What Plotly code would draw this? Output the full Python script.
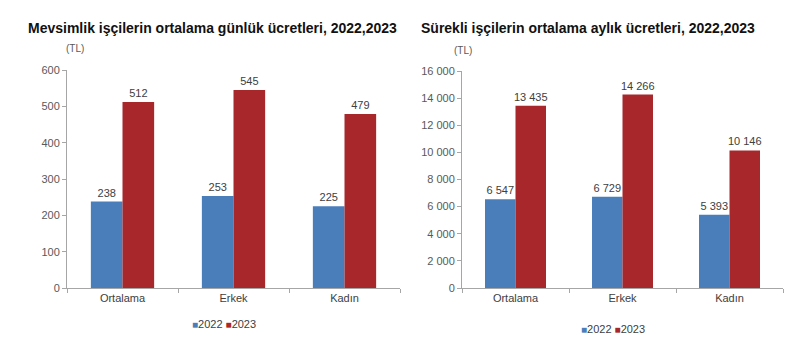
import plotly.graph_objects as go

categories = ["Ortalama", "Erkek", "Kadın"]
years = ["2022", "2023"]
daily_2022 = [238, 253, 225]
daily_2023 = [512, 545, 479]
monthly_2022 = [6547, 6729, 5393]
monthly_2023 = [13435, 14266, 10146]

left_title = "Mevsimlik işçilerin ortalama günlük ücretleri, 2022,2023"
right_title = "Sürekli işçilerin ortalama aylık ücretleri, 2022,2023"
unit = "(TL)"

BLUE = "#4a7ebb"
RED = "#a8272a"
FONT = "Liberation Sans, Arial, sans-serif"
TICKC = "#595959"
AXC = "#a6a6a6"
W, H, OFF = 800, 357, 8


def xp(px):
    return (px - OFF) / W


def yp(py):
    return 1 - (py - OFF) / H


fig = go.Figure()

for vals, name, col, xa, ya in [
    (daily_2022, years[0], BLUE, "x", "y"),
    (daily_2023, years[1], RED, "x", "y"),
    (monthly_2022, years[0], BLUE, "x2", "y2"),
    (monthly_2023, years[1], RED, "x2", "y2"),
]:
    fig.add_trace(go.Bar(
        x=categories, y=vals, name=name, marker=dict(color=col, line=dict(width=0)),
        xaxis=xa, yaxis=ya, showlegend=False,
        text=vals, texttemplate="%{y:,}", textposition="outside",
        textfont=dict(size=11, color="#404040", family=FONT),
        cliponaxis=False,
    ))

xcommon = dict(type="category", showline=True, linecolor=AXC, linewidth=1,
               ticks="outside", tickson="boundaries", ticklen=4, tickcolor=AXC,
               tickfont=dict(size=11, color="#404040", family=FONT), showgrid=False)
ycommon = dict(showline=True, linecolor=AXC, linewidth=1, ticks="outside", ticklen=4,
               tickcolor=AXC, tickfont=dict(size=11, color=TICKC, family=FONT),
               showgrid=False, zeroline=False)

fig.update_layout(
    width=W, height=H,
    margin=dict(l=0, r=0, t=0, b=0, autoexpand=False),
    paper_bgcolor="white", plot_bgcolor="white",
    separators=", ",
    barmode="group", bargap=0.43, bargroupgap=0,
    uniformtext=dict(minsize=11, mode="show"),
    font=dict(family=FONT),
    xaxis=dict(domain=[xp(67), xp(400)], anchor="y", **xcommon),
    yaxis=dict(domain=[yp(288), yp(70)], range=[0, 600], dtick=100, anchor="x", **ycommon),
    xaxis2=dict(domain=[xp(462), xp(783)], anchor="y2", **xcommon),
    yaxis2=dict(domain=[yp(288), yp(71)], range=[0, 16000], dtick=2000, anchor="x2",
                tickformat=",d", **ycommon),
    showlegend=False,
)

def ann(text, x, y, size, color, xanchor="center"):
    fig.add_annotation(text=text, x=xp(x), y=yp(y), xref="paper", yref="paper",
                       xanchor=xanchor, yanchor="middle", showarrow=False,
                       font=dict(size=size, color=color, family=FONT))

ann(f"<b>{left_title}</b>", 213, 28, 14, "#111")
ann(f"<b>{right_title}</b>", 588, 28, 14, "#111")
ann(unit, 75, 48, 10, TICKC)
ann(unit, 463, 50, 10, TICKC)


def legend_text():
    return (f"<span style='color:{BLUE};font-size:10px'>■</span>{years[0]} "
            f"<span style='color:{RED};font-size:10px'>■</span>{years[1]}")

ann(legend_text(), 224, 324, 11, "#404040")
ann(legend_text(), 613, 329, 11, "#404040")

fig.write_html("out.html")
